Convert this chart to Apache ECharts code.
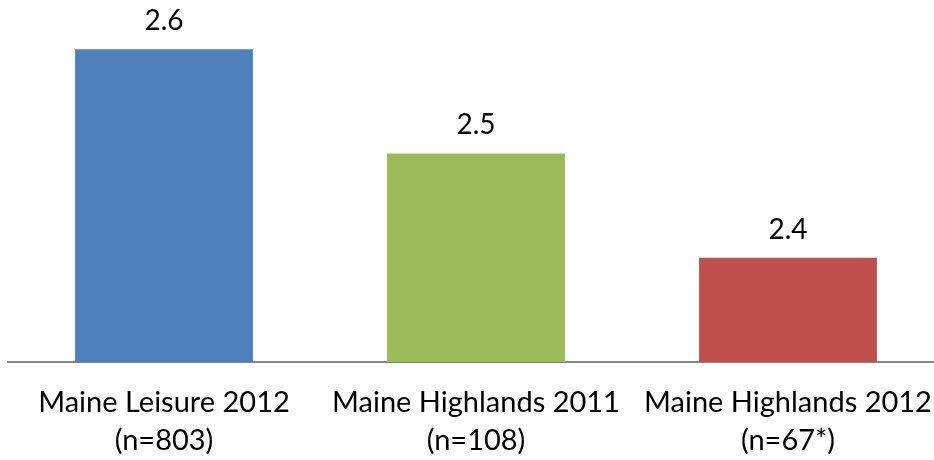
<!DOCTYPE html>
<html>
<head>
<meta charset="utf-8">
<script src="https://cdn.jsdelivr.net/npm/echarts@6/dist/echarts.min.js"></script>
<style>
  html, body { margin: 0; padding: 0; background: #fff; overflow: hidden; }
  #chart { width: 934px; height: 460px; }
</style>
</head>
<body>
<div id="chart"></div>
<script>
// Categories and values for the bar chart
const categories = [
  'Maine Leisure 2012\n(n=803)',
  'Maine Highlands 2011\n(n=108)',
  'Maine Highlands 2012\n(n=67*)'
];
const values = [2.6, 2.5, 2.4];
const barColors = ['#4F81BD', '#9BBB59', '#C0504D'];

const FONT = 'Lato, "Open Sans", sans-serif';

const chart = echarts.init(document.getElementById('chart'));
chart.setOption({
  animation: false,
  grid: { left: 8, width: 936, top: -3, height: 365, outerBoundsMode: 'none', containLabel: false },
  xAxis: {
    type: 'category',
    data: categories,
    axisLine: { lineStyle: { color: '#868686', width: 2 } },
    axisTick: { show: false },
    axisLabel: {
      color: '#000',
      fontFamily: FONT,
      fontSize: 29,
      lineHeight: 38,
      margin: 22,
      interval: 0
    }
  },
  yAxis: {
    type: 'value',
    min: 2.3,
    max: 2.65,
    show: false,
    splitLine: { show: false }
  },
  series: [{
    type: 'bar',
    barWidth: '57%',
    data: values.map((v, i) => ({ value: v, itemStyle: { color: barColors[i] } })),
    label: {
      show: true,
      position: 'top',
      distance: 14,
      color: '#000',
      fontFamily: FONT,
      fontSize: 28,
      formatter: p => p.value.toFixed(1)
    }
  }]
});
</script>
</body>
</html>
